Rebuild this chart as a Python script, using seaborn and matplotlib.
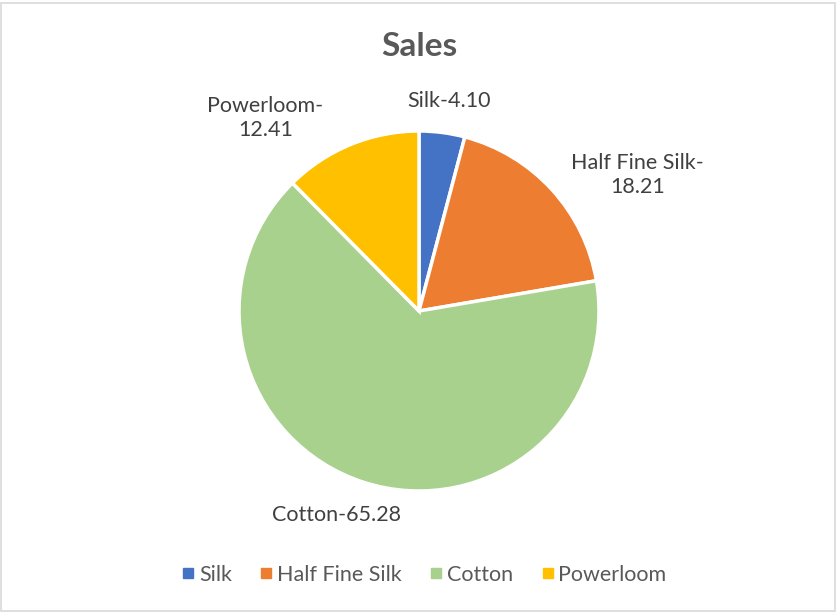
import numpy as np
import matplotlib
matplotlib.use("Agg")
import matplotlib.pyplot as plt
import seaborn as sns
from matplotlib.patches import Rectangle
from matplotlib.lines import Line2D

sns.set_theme(style="white")
plt.rcParams['font.family'] = ['Lato', 'DejaVu Sans']

categories = ["Silk", "Half Fine Silk", "Cotton", "Powerloom"]
values = [4.10, 18.21, 65.28, 12.41]
label_texts = ["Silk-4.10", "Half Fine Silk-\n18.21", "Cotton-65.28", "Powerloom-\n12.41"]
colors = ["#4472C4", "#ED7D31", "#A9D18E", "#FFC000"]
title = "Sales"

W, H = 837, 612
fig = plt.figure(figsize=(W / 100, H / 100), dpi=100)
fig.patch.set_facecolor("white")
fig.patches.append(Rectangle((1.5 / W, 1.5 / H), (W - 3.5) / W, (H - 4) / H,
                             transform=fig.transFigure, fill=False,
                             edgecolor="#D9D9D9", linewidth=1.2))

cx, cy, r = 419, 311, 180
ax = fig.add_axes([(cx - r) / W, (H - cy - r) / H, 2 * r / W, 2 * r / H])
wedges, _ = ax.pie(values, colors=colors, startangle=90, counterclock=False,
                   radius=1.0, wedgeprops=dict(edgecolor="white", linewidth=2.5))
ax.set_xlim(-1, 1)
ax.set_ylim(-1, 1)
ax.set_aspect("equal")
ax.axis("off")

# label placement: distance factor and angular tweak (degrees) per slice
dists = [1.18, 1.43, 1.22, 1.37]
tweaks = [-0.7, -10.5, -4.2, 16.2]
for w, txt, d, tw in zip(wedges, label_texts, dists, tweaks):
    ang = np.deg2rad((w.theta1 + w.theta2) / 2 + tw)
    ax.text(d * np.cos(ang), d * np.sin(ang), txt, ha="center", va="center",
            fontsize=15.5, color="#404040", linespacing=1.25, clip_on=False)

fig.text(cx / W, 1 - 47 / H, title, ha="center", va="center",
         fontsize=24, fontweight="bold", color="#595959")

handles = [Line2D([0], [0], marker="s", linestyle="", markersize=7.5,
                  markerfacecolor=c, markeredgecolor=c) for c in colors]
fig.legend(handles, categories, loc="center", bbox_to_anchor=(422 / W, 1 - 575 / H),
           ncol=4, frameon=False, fontsize=15.5, labelcolor="#595959",
           handletextpad=0.0, columnspacing=1.1, handlelength=1.0)

fig.savefig("out.png", dpi=100, facecolor="white")
